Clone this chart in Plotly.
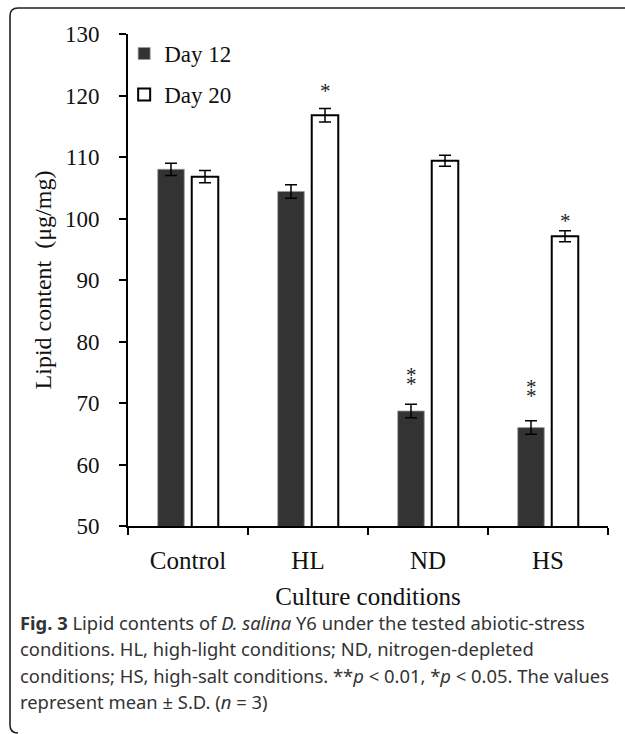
import plotly.graph_objects as go

# ---- data ----
categories = ["Control", "HL", "ND", "HS"]
series_names = ["Day 12", "Day 20"]
day12 = [108.0, 104.4, 68.7, 66.0]
day20 = [106.8, 116.8, 109.4, 97.1]
sd12 = [1.0, 1.1, 1.1, 1.1]
sd20 = [1.0, 1.1, 0.9, 0.9]
y_ticks = [50, 60, 70, 80, 90, 100, 110, 120, 130]
# significance marks: (category, series index, number of stars)
sig_marks = [("HL", 1, 1), ("ND", 0, 2), ("HS", 0, 2), ("HS", 1, 1)]
sig_shift = [3, 6, 11, -4]  # px lift of the lowest star above its error bar

caption_lines = [
    "<b>Fig. 3</b> Lipid contents of <i>D. salina</i> Y6 under the tested abiotic-stress",
    "conditions. HL, high-light conditions; ND, nitrogen-depleted",
    "conditions; HS, high-salt conditions. **<i>p</i> &lt; 0.01, *<i>p</i> &lt; 0.05. The values",
    "represent mean ± S.D. (<i>n</i> = 3)",
]

W, H = 625, 734
L, R, T, B = 128, 17, 34, 208
PW, PH = W - L - R, H - T - B


def px(X):
    return (X - L) / PW


def py(Y):
    return (H - B - Y) / PH


SERIF = "Liberation Serif"
fig = go.Figure()
fig.add_trace(go.Bar(
    name=series_names[0], x=categories, y=day12, legendgroup="a",
    marker=dict(color="#333333", line=dict(color="#9a9a9a", width=0.8)),
    error_y=dict(type="data", array=sd12, color="black", thickness=1.5, width=6),
))
fig.add_trace(go.Bar(
    name=series_names[1], x=categories, y=day20, legendgroup="b",
    marker=dict(color="white", line=dict(color="black", width=2)),
    error_y=dict(type="data", array=sd20, color="black", thickness=1.5, width=6),
))

vals = [day12, day20]
sds = [sd12, sd20]
for (cat, si, n), sh in zip(sig_marks, sig_shift):
    i = categories.index(cat)
    top = vals[si][i] + sds[si][i]
    for k in range(n):
        fig.add_annotation(
            x=cat, y=top, xref="x", yref="y", text="*", showarrow=False,
            xshift=-17 if si == 0 else 17, yshift=sh + 9 * k,
            yanchor="bottom", font=dict(family=SERIF, size=21, color="#222"),
        )

for j, line in enumerate(caption_lines):
    fig.add_annotation(
        x=px(18), y=py(622 + 26.5 * j), xref="paper", yref="paper",
        text=line, showarrow=False, xanchor="left", yanchor="middle",
        font=dict(family="Noto Sans", size=18.4, color="#333"),
    )

frame = (f"M {px(625)},{py(8)} L {px(18)},{py(8)} Q {px(10)},{py(8)} {px(10)},{py(16)} "
         f"L {px(10)},{py(725)} Q {px(10)},{py(733)} {px(18)},{py(733)}")
fig.add_shape(type="path", path=frame, xref="paper", yref="paper",
              line=dict(color="#222", width=1.6))

fig.update_layout(
    width=W, height=H, margin=dict(l=L, r=R, t=T, b=B),
    plot_bgcolor="white", paper_bgcolor="white",
    barmode="group", bargap=0.433, bargroupgap=0.22,
    font=dict(family=SERIF, size=23, color="#111"),
    legend=dict(x=-0.008, y=1.004, xanchor="left", yanchor="top",
                bgcolor="rgba(0,0,0,0)", tracegroupgap=8,
                font=dict(family=SERIF, size=23, color="#111")),
    xaxis=dict(
        showline=True, linecolor="black", linewidth=2,
        ticks="outside", tickson="boundaries", ticklen=7, tickwidth=2, tickcolor="black",
        ticklabelstandoff=11, tickfont=dict(size=25),
        title=dict(text="Culture conditions", standoff=14, font=dict(size=25)),
    ),
    yaxis=dict(
        range=[50, 130], tickvals=y_ticks, showgrid=False, zeroline=False,
        showline=True, linecolor="black", linewidth=2,
        ticks="outside", ticklen=7, tickwidth=2, tickcolor="black",
        ticklabelstandoff=15, tickfont=dict(size=23),
        title=dict(text="Lipid content\u00a0\u00a0(μg/mg)", standoff=7, font=dict(size=24)),
    ),
)

fig.write_html(
    "out.html",
    config={"displayModeBar": False},
    post_script="document.documentElement.style.overflow='hidden';"
                "document.body.style.margin='0';document.body.style.overflow='hidden';",
)
